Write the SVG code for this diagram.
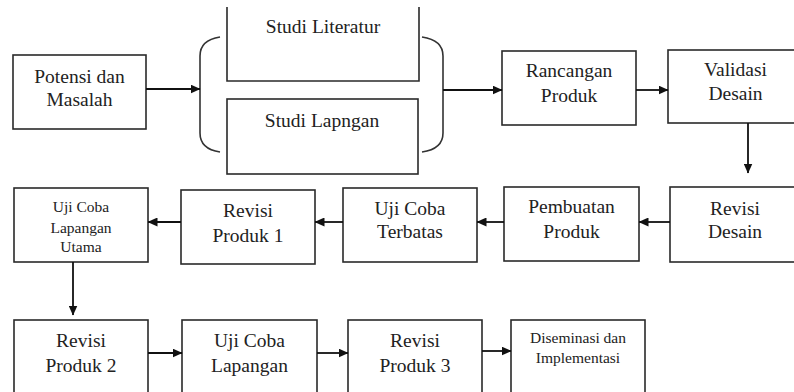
<svg xmlns="http://www.w3.org/2000/svg" width="794" height="392" viewBox="0 0 794 392">
<defs>
<style>
.box{fill:#fff;stroke:#2a2a2a;stroke-width:1.6}
.t{font-family:"Liberation Serif","Times New Roman",serif;font-size:19.5px;fill:#222;text-anchor:middle}
.s{font-family:"Liberation Serif","Times New Roman",serif;font-size:15.5px;fill:#222;text-anchor:middle}
.c{fill:none;stroke:#111;stroke-width:1.8}
.br{fill:none;stroke:#333;stroke-width:1.6}
</style>
<marker id="ah" markerWidth="10" markerHeight="9" refX="9.5" refY="4.5" orient="auto" markerUnits="userSpaceOnUse">
<path d="M0,0 L10,4.5 L0,9 Z" fill="#111"/>
</marker>
</defs>
<rect width="794" height="392" fill="#fff"/>

<g id="n-potensi"><rect class="box" x="13" y="55" width="133" height="74"/>
<text class="t" x="79.5" y="83">Potensi dan</text><text class="t" x="79.5" y="106">Masalah</text></g>

<g id="n-literatur"><path class="box" d="M227,7 V81 H419 V7"/>
<text class="t" x="323" y="33">Studi Literatur</text></g>

<g id="n-lapangan"><rect class="box" x="227" y="99" width="191" height="75"/>
<text class="t" x="322" y="127">Studi Lapngan</text></g>

<g id="braces">
<path class="br" d="M220,37 Q200,40 200,56 V133 Q200,149 220,152"/>
<path class="br" d="M422,37 Q443,40 443,56 V133 Q443,149 422,152"/>
</g>

<g id="n-rancangan"><rect class="box" x="502" y="51" width="134" height="74"/>
<text class="t" x="569" y="77">Rancangan</text><text class="t" x="569" y="102">Produk</text></g>

<g id="n-validasi"><rect class="box" x="668" y="50" width="140" height="73"/>
<text class="t" x="735.5" y="76">Validasi</text><text class="t" x="735.5" y="100">Desain</text></g>

<g id="n-revisidesain"><rect class="box" x="670" y="187" width="140" height="75"/>
<text class="t" x="735" y="215">Revisi</text><text class="t" x="735" y="238">Desain</text></g>

<g id="n-pembuatan"><rect class="box" x="504" y="187" width="135" height="74"/>
<text class="t" x="571.5" y="213">Pembuatan</text><text class="t" x="571.5" y="238">Produk</text></g>

<g id="n-terbatas"><rect class="box" x="343" y="188" width="134" height="74"/>
<text class="t" x="410" y="215">Uji Coba</text><text class="t" x="410" y="238">Terbatas</text></g>

<g id="n-revisi1"><rect class="box" x="181" y="190" width="134" height="74"/>
<text class="t" x="248" y="217">Revisi</text><text class="t" x="248" y="242">Produk 1</text></g>

<g id="n-utama"><rect class="box" x="14" y="188" width="134" height="74"/>
<text class="s" x="81" y="212">Uji Coba</text><text class="s" x="81" y="233">Lapangan</text><text class="s" x="81" y="252">Utama</text></g>

<g id="n-revisi2"><rect class="box" x="14" y="320" width="134" height="80"/>
<text class="t" x="81" y="347">Revisi</text><text class="t" x="81" y="372">Produk 2</text></g>

<g id="n-ujilapangan"><rect class="box" x="182" y="320" width="135" height="80"/>
<text class="t" x="249.5" y="347">Uji Coba</text><text class="t" x="249.5" y="372">Lapangan</text></g>

<g id="n-revisi3"><rect class="box" x="348" y="320" width="134" height="80"/>
<text class="t" x="415" y="347">Revisi</text><text class="t" x="415" y="372">Produk 3</text></g>

<g id="n-diseminasi"><rect class="box" x="511" y="320" width="134" height="80"/>
<text class="s" x="578" y="343">Diseminasi dan</text><text class="s" x="578" y="363">Implementasi</text></g>

<g id="connectors">
<path class="c" d="M146,89 H200" marker-end="url(#ah)"/>
<path class="c" d="M443,90 H502" marker-end="url(#ah)"/>
<path class="c" d="M636,90 H668" marker-end="url(#ah)"/>
<path class="c" d="M748,123 V173" marker-end="url(#ah)"/>
<path class="c" d="M670,222 H639" marker-end="url(#ah)"/>
<path class="c" d="M504,222 H477" marker-end="url(#ah)"/>
<path class="c" d="M343,222 H315" marker-end="url(#ah)"/>
<path class="c" d="M181,222 H148" marker-end="url(#ah)"/>
<path class="c" d="M73,262 V315" marker-end="url(#ah)"/>
<path class="c" d="M148,353 H182" marker-end="url(#ah)"/>
<path class="c" d="M317,353 H348" marker-end="url(#ah)"/>
<path class="c" d="M482,351 H511" marker-end="url(#ah)"/>
</g>
</svg>
